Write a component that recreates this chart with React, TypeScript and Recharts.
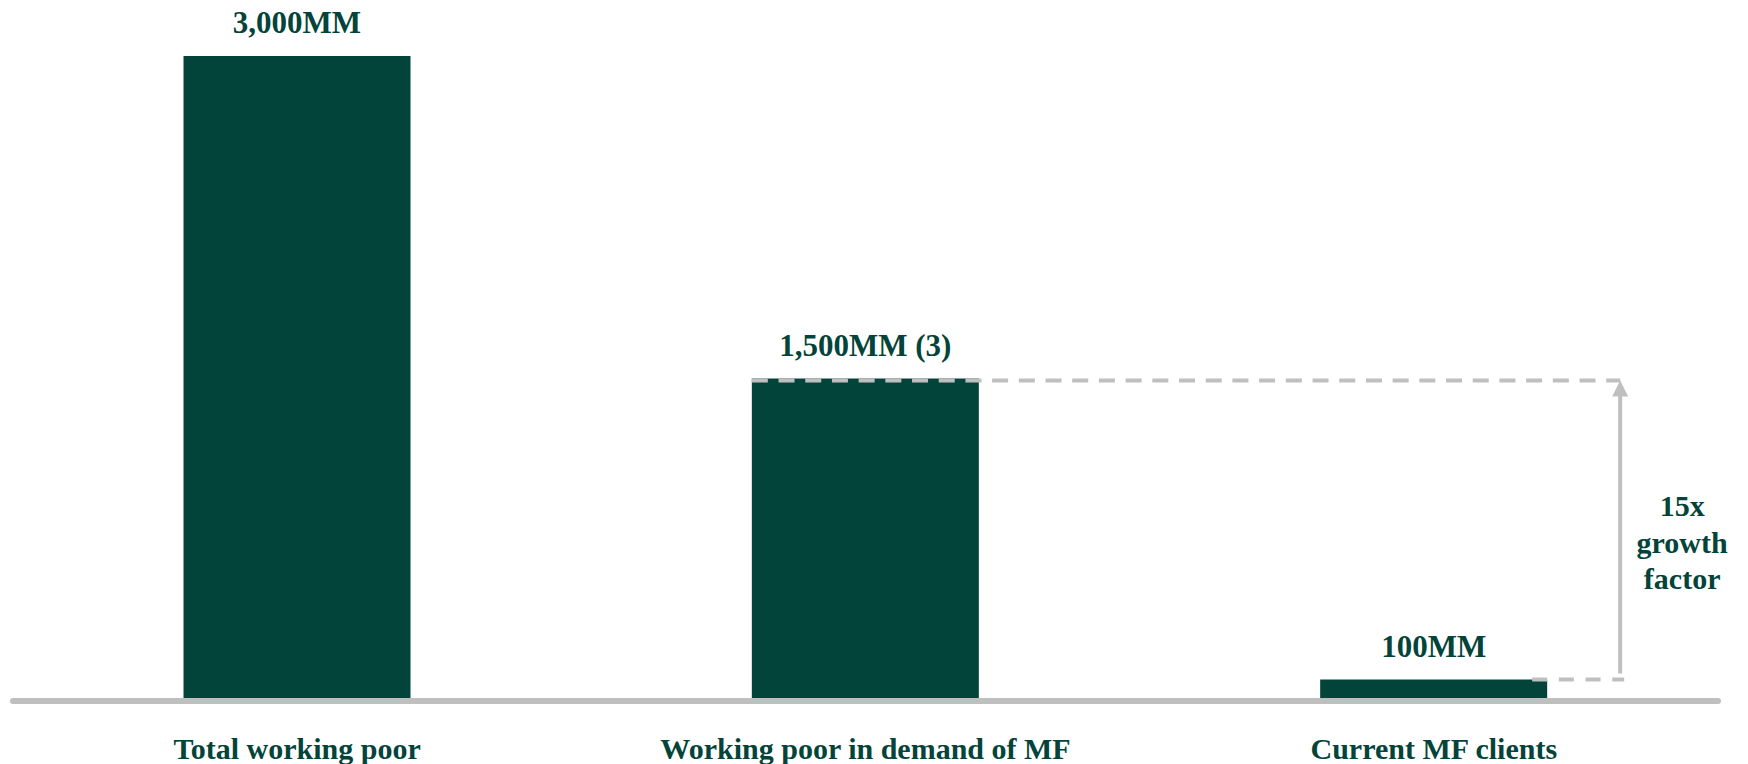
import { BarChart, Bar, XAxis, YAxis, ReferenceLine, LabelList } from 'recharts'

const categories = ['Total working poor', 'Working poor in demand of MF', 'Current MF clients']
const people = [3000, 1500, 100]
const footnotes = ['', ' (3)', '']
const growthLines = ['15x', 'growth', 'factor']

const W = 1748
const H = 764
const MARGIN = { top: 56, right: 30, bottom: 3, left: 13 }
const Y_MAX = 3000
const GREEN = '#03443a'
const GREY = '#bfbfbf'
const FONT = '"Liberation Serif", "Times New Roman", serif'

const data = categories.map((name, i) => ({ name, value: people[i] }))

function BarShape(props: any) {
  const { x, y, width, height, index } = props
  const rect = <rect x={x} y={y} width={width} height={height} fill={GREEN} />
  if (index !== people.length - 1) return rect

  // bracket from the demand bar down to current clients, drawn on top of the last bar
  const bottom = y + height
  const perUnit = height / people[index]
  const yOf = (v: number) => bottom - v * perUnit
  const band = (W - MARGIN.left - MARGIN.right) / categories.length
  const demandLeft = x - band
  const yHigh = yOf(people[1]) + 2
  const yLow = y
  const arrowX = x + width + 73
  const mid = (yHigh + yLow) / 2

  return (
    <g>
      {rect}
      <line x1={demandLeft} y1={yHigh} x2={arrowX} y2={yHigh} stroke={GREY} strokeWidth={4} strokeDasharray="16 10.7" />
      <line x1={x + width - 15} y1={yLow} x2={arrowX + 4} y2={yLow} stroke={GREY} strokeWidth={4} strokeDasharray="15 11.7" />
      <line x1={arrowX} y1={yLow - 6} x2={arrowX} y2={yHigh + 14} stroke={GREY} strokeWidth={4} />
      <polygon points={`${arrowX},${yHigh} ${arrowX - 8},${yHigh + 16} ${arrowX + 8},${yHigh + 16}`} fill={GREY} />
      {growthLines.map((t, i) => (
        <text
          key={t}
          x={arrowX + 62}
          y={mid - 14 + i * 36.5}
          textAnchor="middle"
          fill={GREEN}
          fontFamily={FONT}
          fontWeight="bold"
          fontSize={30}
        >
          {t}
        </text>
      ))}
    </g>
  )
}

function ValueLabel(props: any) {
  const { x, y, width, value, index } = props
  return (
    <text
      x={x + width / 2}
      y={y - 23}
      textAnchor="middle"
      fill={GREEN}
      fontFamily={FONT}
      fontWeight="bold"
      fontSize={31}
    >
      {`${Number(value).toLocaleString('en-US')}MM${footnotes[index] ?? ''}`}
    </text>
  )
}

function CategoryTick(props: any) {
  const { x, y, payload } = props
  return (
    <text
      x={x}
      y={y + 50}
      textAnchor="middle"
      fill={GREEN}
      fontFamily={FONT}
      fontWeight="bold"
      fontSize={30}
    >
      {payload.value}
    </text>
  )
}

export default function App() {
  return (
    <div style={{ position: 'absolute', left: 0, top: 0, width: W, height: H, background: '#fff' }}>
      <BarChart width={W} height={H} data={data} margin={MARGIN} barCategoryGap="30%">
        <XAxis dataKey="name" axisLine={false} tickLine={false} height={60} tick={<CategoryTick />} interval={0} />
        <YAxis hide domain={[0, Y_MAX]} />
        <Bar dataKey="value" isAnimationActive={false} shape={<BarShape />}>
          <LabelList dataKey="value" content={<ValueLabel />} />
        </Bar>
        <ReferenceLine y={0} stroke={GREY} strokeWidth={6} strokeLinecap="round" />
      </BarChart>
    </div>
  )
}
